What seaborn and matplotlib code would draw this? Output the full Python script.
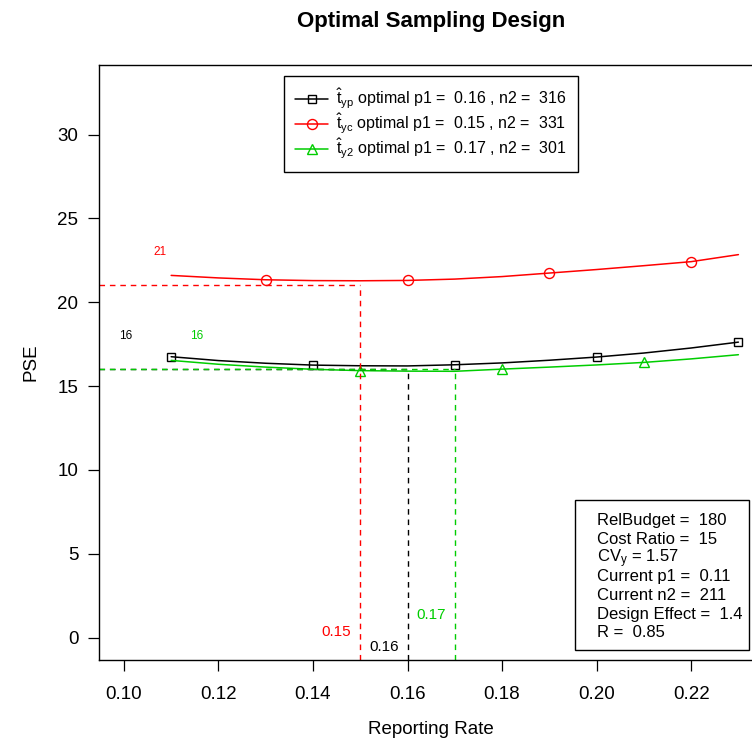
import numpy as np
import pandas as pd
import matplotlib
matplotlib.use("Agg")
import matplotlib.pyplot as plt
import seaborn as sns
from matplotlib.lines import Line2D
from matplotlib.patches import Rectangle

# ---------------- data ----------------
rate = [0.11, 0.12, 0.13, 0.14, 0.15, 0.16, 0.17, 0.18, 0.19, 0.20, 0.21, 0.22, 0.23]
pse_typ = [16.75, 16.52, 16.36, 16.25, 16.21, 16.20, 16.27, 16.38, 16.54, 16.73, 16.97, 17.27, 17.62]
pse_tyc = [21.60, 21.45, 21.34, 21.29, 21.28, 21.30, 21.38, 21.53, 21.74, 21.95, 22.18, 22.42, 22.84]
pse_ty2 = [16.53, 16.30, 16.13, 16.00, 15.92, 15.89, 15.88, 16.01, 16.13, 16.26, 16.41, 16.62, 16.87]
mark_typ = [0.11, 0.14, 0.17, 0.20, 0.23]
mark_tyc = [0.13, 0.16, 0.19, 0.22]
mark_ty2 = [0.15, 0.18, 0.21]
series_math = [r"$\hat{\mathrm{t}}_{\mathrm{yp}}$", r"$\hat{\mathrm{t}}_{\mathrm{yc}}$", r"$\hat{\mathrm{t}}_{\mathrm{y2}}$"]
opt_p1 = [0.16, 0.15, 0.17]
opt_n2 = [316, 331, 301]
opt_pse = [16, 21, 16]
x_ticks = [0.10, 0.12, 0.14, 0.16, 0.18, 0.20, 0.22]
y_ticks = [0, 5, 10, 15, 20, 25, 30]
info_lines = ["RelBudget =  180", "Cost Ratio =  15", r"CV$_\mathrm{y}$ = 1.57",
              "Current p1 =  0.11", "Current n2 =  211", "Design Effect =  1.4", "R =  0.85"]

colors = ["#000000", "#FF0000", "#00CD00"]
markers = ["s", "o", "^"]
msizes = [5.4, 7.2, 6.6]

# ---------------- style ----------------
sns.set_theme(style="ticks")
plt.rcParams["font.family"] = ["Liberation Sans", "DejaVu Sans"]
plt.rcParams["mathtext.fontset"] = "custom"
plt.rcParams["mathtext.rm"] = "Liberation Sans"
plt.rcParams["mathtext.it"] = "Liberation Sans:italic"
plt.rcParams["mathtext.bf"] = "Liberation Sans:bold"
plt.rcParams["text.color"] = "black"
plt.rcParams["axes.labelcolor"] = "black"
plt.rcParams["xtick.color"] = "black"
plt.rcParams["ytick.color"] = "black"

W, H = 752, 753
fig = plt.figure(figsize=(W / 100, H / 100), dpi=100)
ax = fig.add_axes([99.3 / W, 93 / H, (763 - 99.3) / W, 595 / H])
xlim = (0.0948, 0.2352)
ylim = (-1.34, 34.15)

df = pd.DataFrame({"rate": rate, "typ": pse_typ, "tyc": pse_tyc, "ty2": pse_ty2})
mark_sets = [mark_typ, mark_tyc, mark_ty2]
cols = ["typ", "tyc", "ty2"]
for col, c, m, ms, mk in zip(cols, colors, markers, msizes, mark_sets):
    idx = [int(np.argmin(np.abs(np.array(rate) - v))) for v in mk]
    sns.lineplot(data=df, x="rate", y=col, ax=ax, color=c, lw=1.1,
                 marker=m, markevery=idx, markersize=ms,
                 markerfacecolor="none", markeredgecolor=c, markeredgewidth=1.0)

# dashed guide lines (red, black, green)
for i in [1, 0, 2]:
    ax.hlines(opt_pse[i], xlim[0], opt_p1[i], colors=colors[i], linestyles=(0, (4, 3.5)), lw=1.0)
    ax.vlines(opt_p1[i], ylim[0], opt_pse[i], colors=colors[i], linestyles=(0, (4, 3.5)), lw=1.0)

# small annotation labels
ax.text(0.1076, 23.0, str(opt_pse[1]), color=colors[1], fontsize=8.5, ha="center", va="center")
ax.text(0.1004, 18.0, str(opt_pse[0]), color=colors[0], fontsize=8.5, ha="center", va="center")
ax.text(0.1155, 18.0, str(opt_pse[2]), color=colors[2], fontsize=8.5, ha="center", va="center")
ax.text(0.1449, 0.35, f"{opt_p1[1]:.2f}", color=colors[1], fontsize=11, ha="center", va="center")
ax.text(0.1550, -0.57, f"{opt_p1[0]:.2f}", color=colors[0], fontsize=11, ha="center", va="center")
ax.text(0.1650, 1.34, f"{opt_p1[2]:.2f}", color=colors[2], fontsize=11, ha="center", va="center")

ax.set_xlim(*xlim)
ax.set_ylim(*ylim)
ax.set_xticks(x_ticks)
ax.set_xticklabels([f"{v:.2f}" for v in x_ticks])
ax.set_yticks(y_ticks)
ax.set_yticklabels([str(v) for v in y_ticks])
ax.tick_params(direction="out", length=8, width=0.9, labelsize=13.5, colors="black")
ax.tick_params(axis="x", pad=11)
ax.tick_params(axis="y", pad=7)
for s in ax.spines.values():
    s.set_visible(True)
    s.set_color("black")
    s.set_linewidth(1.0)

ax.set_xlabel("Reporting Rate", fontsize=13.5)
ax.set_ylabel("PSE", fontsize=13.5)
ax.xaxis.set_label_coords((431 - 99.3) / (763 - 99.3), -0.102)
ax.yaxis.set_label_coords(-0.09, 0.5)
fig.text(431 / W, 1 - 22 / H, "Optimal Sampling Design", fontsize=16, fontweight="bold",
         ha="center", va="center")

# legend
handles = [Line2D([], [], color=c, lw=1.1, marker=m, markersize=ms, markerfacecolor="none",
                  markeredgecolor=c, markeredgewidth=1.0)
           for c, m, ms in zip(colors, markers, msizes)]
labels = [f"{sm} optimal p1 =  {p:.2f} , n2 =  {n}" for sm, p, n in zip(series_math, opt_p1, opt_n2)]
leg = ax.legend(handles, labels, loc="upper center", bbox_to_anchor=(431 / W, 1 - 76 / H),
                bbox_transform=fig.transFigure, borderaxespad=0, fontsize=11.5,
                frameon=True, fancybox=False, framealpha=1, edgecolor="black",
                handlelength=2.1, handletextpad=0.5, labelspacing=0.05, borderpad=0.7)
leg.get_frame().set_linewidth(1.0)

# info box (drawn as a framed block of text)
fig.patches.append(Rectangle((575 / W, 1 - 650 / H), (749 - 575) / W, 150 / H,
                             transform=fig.transFigure, facecolor="white",
                             edgecolor="black", lw=1.0, zorder=5))
for k, line in enumerate(info_lines):
    yb = 519 + k * 18.7 + 6
    fig.text(597 / W, 1 - yb / H, line, fontsize=12, ha="left", va="baseline", zorder=6)

fig.savefig("out.png", dpi=100)
